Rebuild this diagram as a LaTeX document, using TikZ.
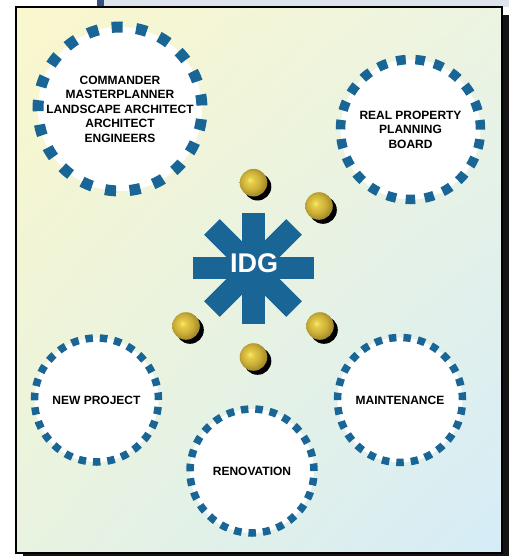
\documentclass[tikz,border=0pt]{standalone}
\usepackage{fontspec}
\setmainfont{Liberation Sans}
\usetikzlibrary{shadings}
\definecolor{idgblue}{RGB}{24,101,150}
\definecolor{bgUL}{RGB}{250,247,204}
\definecolor{bgUR}{RGB}{236,244,226}
\definecolor{bgLL}{RGB}{232,243,224}
\definecolor{bgLR}{RGB}{213,236,247}
\definecolor{goldA}{RGB}{250,234,115}
\definecolor{goldB}{RGB}{230,203,72}
\definecolor{goldC}{RGB}{203,175,55}
\definecolor{goldD}{RGB}{160,136,40}
\definecolor{stripL}{RGB}{55,80,130}
\definecolor{stripR}{RGB}{222,228,236}
\pgfdeclareradialshading{goldball}{\pgfpoint{-7bp}{5bp}}{color(0bp)=(goldA); color(6bp)=(goldB); color(17bp)=(goldC); color(27bp)=(goldD); color(50bp)=(goldD)}
\tikzset{
  ring/.style={circle, fill=white, draw=idgblue, inner sep=0pt, align=center,
    text=black, font=\bfseries\fontsize{12}{14.5}\selectfont},
  goldsphere/.style={circle, inner sep=0pt, minimum size=28pt, shade, shading=goldball},
  armfill/.style={fill=idgblue}
}
\begin{document}
\begin{tikzpicture}[x=1pt,y=-1pt]
\useasboundingbox (0,0) rectangle (509,556);
% strip of an image above the frame
\fill[stripR] (97,0) rectangle (509,7);
\fill[stripL] (97,0) rectangle (104,7);
% drop shadow of the frame
\fill[black!92] (23,15) rectangle (509,556);
% background panel
\shade[upper left=bgUL, upper right=bgUR, lower left=bgLL, lower right=bgLR] (16,7) rectangle (502,553);
\draw[line width=1.8pt, black] (16,7) rectangle (502,553);
% rings
\node[ring, minimum size=164pt, line width=11pt, dash pattern=on 11pt off 13.53pt, dash phase=21pt] (tl) at (120,109)
  {COMMANDER\\MASTERPLANNER\\LANDSCAPE ARCHITECT\\ARCHITECT\\ENGINEERS};
\node[ring, minimum size=140pt, line width=9.5pt, dash pattern=on 9.5pt off 9.62pt] (tr) at (410.5,129.5)
  {REAL PROPERTY\\PLANNING\\BOARD};
\node[ring, minimum size=124pt, line width=7.5pt, dash pattern=on 7.5pt off 6.93pt] (np) at (96.5,400)
  {NEW PROJECT};
\node[ring, minimum size=125pt, line width=7.5pt, dash pattern=on 7.5pt off 7.04pt] (ma) at (400,400)
  {MAINTENANCE};
\node[ring, minimum size=124pt, line width=7.5pt, dash pattern=on 7.5pt off 6.93pt] (re) at (252,471)
  {RENOVATION};
% asterisk
\fill[armfill] (193,256.5) rectangle (314,279);
\fill[armfill] (242,213) rectangle (264.5,324);
\fill[armfill, rotate around={45:(253,268)}] (195,257) rectangle (311,279);
\fill[armfill, rotate around={-45:(253,268)}] (195,257) rectangle (311,279);
\node[inner sep=0pt, text depth=0pt, text=white, font=\bfseries\fontsize{27}{27}\selectfont] (idg) at (254,263.5) {IDG};
% gold balls
\foreach \n/\x/\y in {b1/253.5/182.7, b2/319/206, b3/186/326, b4/320/326, b5/253.5/357}{
  \fill[black] (\x+4,\y+4) circle (13.8pt);
  \node[goldsphere, minimum size=27.6pt] (\n) at (\x,\y) {};
}
\end{tikzpicture}
\end{document}
